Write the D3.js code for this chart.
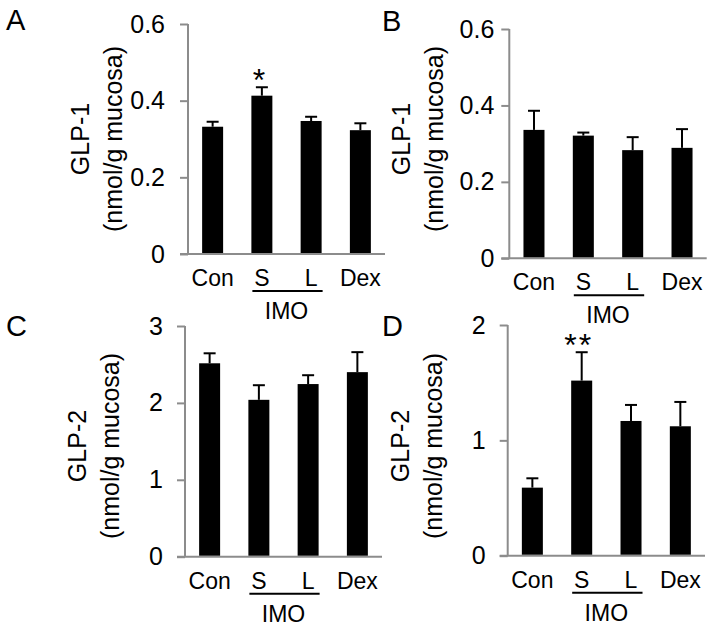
<!DOCTYPE html>
<html>
<head>
<meta charset="utf-8">
<script src="https://cdn.jsdelivr.net/npm/d3@7/dist/d3.min.js"></script>
<style>
  html, body { margin: 0; padding: 0; background: #fff; }
  svg { display: block; font-family: "Liberation Sans", Arial, Helvetica, sans-serif; }
</style>
</head>
<body>
<svg id="chart" width="713" height="629"></svg>
<script>
// ---- data ----
const categories = ["Con", "S", "L", "Dex"];
const groupLabel = "IMO";

const glp1A = [0.332, 0.413, 0.347, 0.323];
const glp1AErr = [0.013, 0.022, 0.011, 0.018];
const glp1B = [0.336, 0.321, 0.283, 0.289];
const glp1BErr = [0.050, 0.008, 0.034, 0.049];
const glp2C = [2.515, 2.04, 2.245, 2.40];
const glp2CErr = [0.13, 0.19, 0.115, 0.26];
const glp2D = [0.59, 1.518, 1.168, 1.122];
const glp2DErr = [0.081, 0.246, 0.139, 0.211];

const ticksGLP1 = [0, 0.2, 0.4, 0.6];
const ticksGLP1Labels = ["0", "0.2", "0.4", "0.6"];
const ticksC = [0, 1, 2, 3];
const ticksCLabels = ["0", "1", "2", "3"];
const ticksD = [0, 1, 2];
const ticksDLabels = ["0", "1", "2"];

const signifA = ["", "*", "", ""];
const signifB = ["", "", "", ""];
const signifC = ["", "", "", ""];
const signifD = ["", "**", "", ""];

// ---- layout ----
const panels = [
  { letter: "A", lx: 6, ly: 30, x0: 188, x1: 385, yBase: 254, yTop: 24, max: 0.6,
    ticks: ticksGLP1, tickLabels: ticksGLP1Labels, values: glp1A, errs: glp1AErr, sig: signifA,
    title: "GLP-1", pad: 15, labelY: 139 },
  { letter: "B", lx: 382, ly: 31, x0: 509.3, x1: 706.7, yBase: 258.3, yTop: 29, max: 0.6,
    ticks: ticksGLP1, tickLabels: ticksGLP1Labels, values: glp1B, errs: glp1BErr, sig: signifB,
    title: "GLP-1", pad: 7, labelY: 139 },
  { letter: "C", lx: 6, ly: 336, x0: 185, x1: 382, yBase: 556.7, yTop: 326, max: 3,
    ticks: ticksC, tickLabels: ticksCLabels, values: glp2C, errs: glp2CErr, sig: signifC,
    title: "GLP-2", pad: 14, labelY: 446 },
  { letter: "D", lx: 382, ly: 336, x0: 507.7, x1: 705, yBase: 555.7, yTop: 325, max: 2,
    ticks: ticksD, tickLabels: ticksDLabels, values: glp2D, errs: glp2DErr, sig: signifD,
    title: "GLP-2", pad: 14, labelY: 446 }
];

const svg = d3.select("#chart");
const axisColor = "#8c8c8c";
const FONT = "'Liberation Sans', Arial, sans-serif";

panels.forEach(p => {
  const g = svg.append("g");
  const x = d3.scaleBand().domain(categories).range([p.x0, p.x1])
    .paddingInner(0.574).paddingOuter(0.287);
  const y = d3.scaleLinear().domain([0, p.max]).range([p.yBase, p.yTop]);

  // panel letter
  g.append("text").attr("x", p.lx).attr("y", p.ly)
    .attr("font-size", 29).attr("fill", "#000").text(p.letter);

  // y axis
  const yAxis = d3.axisLeft(y).tickValues(p.ticks)
    .tickFormat((d, i) => p.tickLabels[i]).tickSize(8).tickPadding(p.pad);
  const ya = g.append("g").attr("transform", `translate(${p.x0},0)`).call(yAxis);
  ya.attr("font-family", FONT).attr("font-size", 25);
  ya.select(".domain").remove();
  ya.append("line").attr("x1", 0).attr("x2", 0).attr("y1", y(p.max)).attr("y2", y(0))
    .attr("stroke", axisColor).attr("stroke-width", 2);
  ya.selectAll(".tick line").attr("stroke", axisColor).attr("stroke-width", 2);
  ya.selectAll(".tick text").attr("fill", "#000");

  // x axis baseline
  g.append("line").attr("x1", p.x0 - 8).attr("x2", p.x1)
    .attr("y1", y(0)).attr("y2", y(0))
    .attr("stroke", axisColor).attr("stroke-width", 2);

  // bars
  g.selectAll("rect.bar").data(categories).join("rect").attr("class", "bar")
    .attr("x", d => x(d)).attr("width", x.bandwidth())
    .attr("y", (d, i) => y(p.values[i]))
    .attr("height", (d, i) => y(0) - y(p.values[i]) - 1)
    .attr("fill", "#000");

  // error bars (upper only)
  const capW = 12;
  categories.forEach((c, i) => {
    const cx = x(c) + x.bandwidth() / 2;
    const top = y(p.values[i] + p.errs[i]);
    g.append("line").attr("x1", cx).attr("x2", cx)
      .attr("y1", y(p.values[i])).attr("y2", top)
      .attr("stroke", "#000").attr("stroke-width", 2);
    g.append("line").attr("x1", cx - capW / 2).attr("x2", cx + capW / 2)
      .attr("y1", top).attr("y2", top)
      .attr("stroke", "#000").attr("stroke-width", 2);
    if (p.sig[i]) {
      g.append("text").attr("x", cx - 3).attr("y", top + 4)
        .attr("text-anchor", "middle").attr("font-size", 32).attr("fill", "#000")
        .attr("letter-spacing", p.sig[i].length > 1 ? 2 : 0)
        .text(p.sig[i]);
    }
  });

  // category labels
  g.selectAll("text.cat").data(categories).join("text").attr("class", "cat")
    .attr("x", d => x(d) + x.bandwidth() / 2).attr("y", p.yBase + 32)
    .attr("text-anchor", "middle").attr("font-size", 23).attr("fill", "#000")
    .text(d => d);

  // IMO group
  const sX = x("S"), lX = x("L") + x.bandwidth();
  g.append("line").attr("x1", sX + 1).attr("x2", lX + 1)
    .attr("y1", p.yBase + 37).attr("y2", p.yBase + 37)
    .attr("stroke", "#000").attr("stroke-width", 2);
  g.append("text").attr("x", (x("S") + x("L") + x.bandwidth()) / 2)
    .attr("y", p.yBase + 65).attr("text-anchor", "middle")
    .attr("font-size", 23).attr("fill", "#000").text(groupLabel);

  // y title (two lines, rotated)
  const t1x = p.x0 - 108, t2x = p.x0 - 75;
  g.append("text").attr("transform", `translate(${t1x},${p.labelY}) rotate(-90)`)
    .attr("text-anchor", "middle").attr("dominant-baseline", "central")
    .attr("font-size", 25).attr("fill", "#000").text(p.title);
  g.append("text").attr("transform", `translate(${t2x},${p.labelY}) rotate(-90)`)
    .attr("text-anchor", "middle").attr("dominant-baseline", "central")
    .attr("font-size", 25).attr("fill", "#000").text("(nmol/g mucosa)");
});
</script>
</body>
</html>
